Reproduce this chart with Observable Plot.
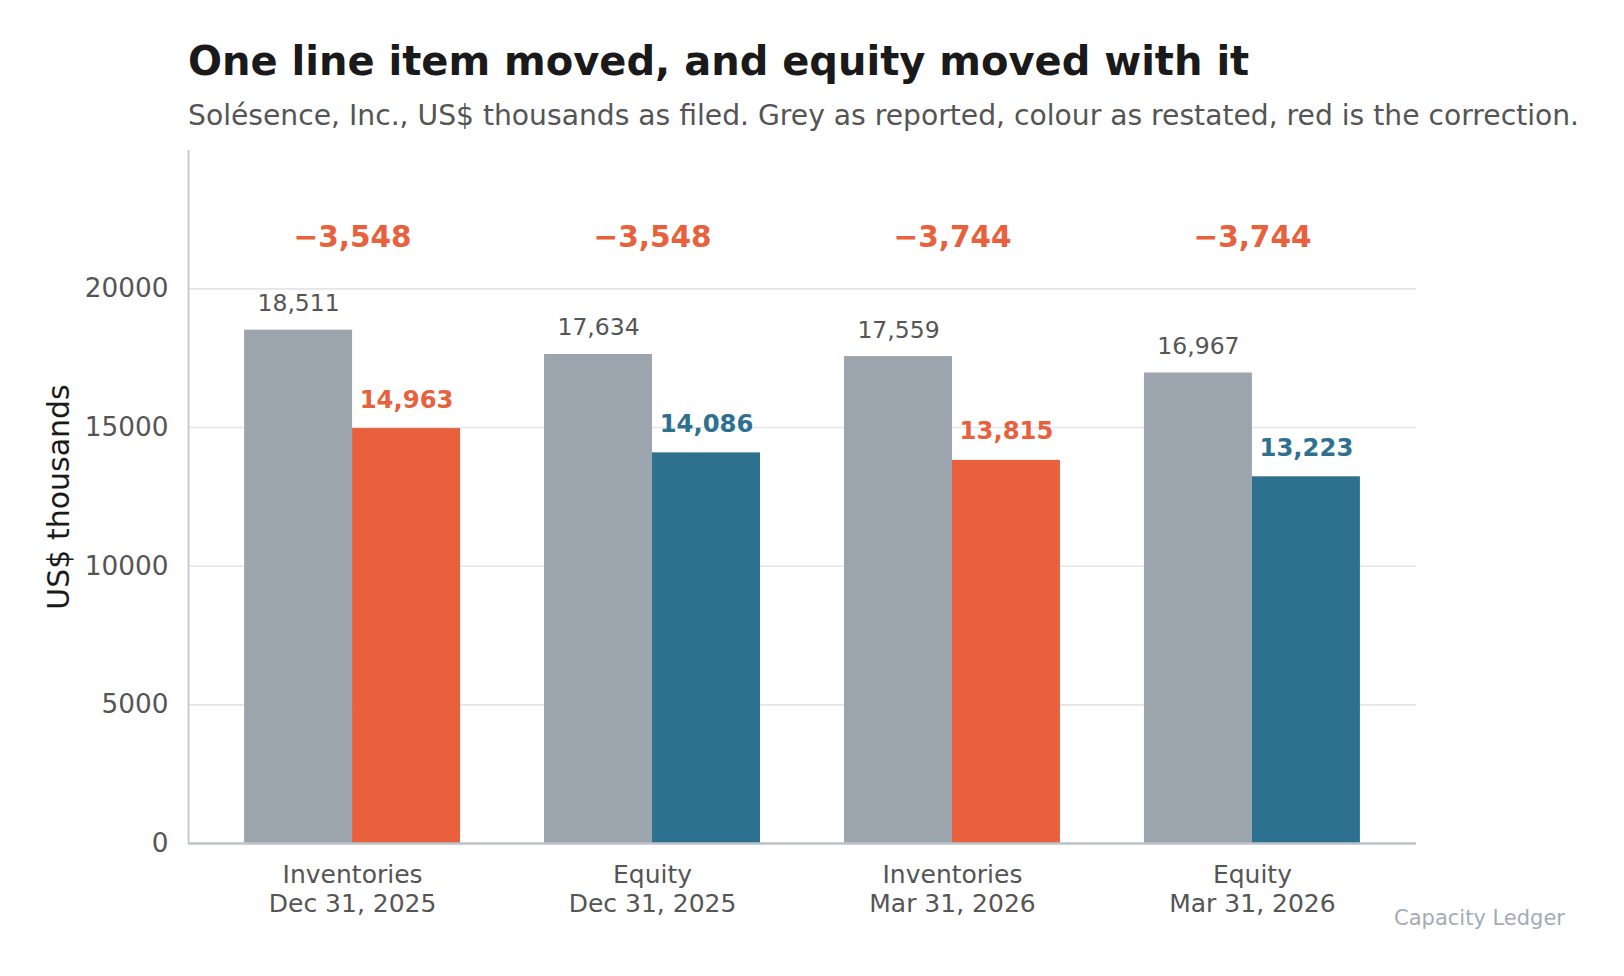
<!DOCTYPE html>
<html>
<head>
<meta charset="utf-8">
<script src="https://cdn.jsdelivr.net/npm/d3@7"></script>
<script src="https://cdn.jsdelivr.net/npm/@observablehq/plot@0.6"></script>
<style>
  html, body { margin: 0; padding: 0; background: #fff; }
  body { font-family: "DejaVu Sans", sans-serif; }
  #wrap { position: relative; width: 1624px; height: 976px; overflow: hidden; background: #fff; }
  #title { position: absolute; left: 188px; top: 41px; font-size: 40px; font-weight: bold; line-height: 1; color: #1a1a1a; white-space: nowrap; }
  #subtitle { position: absolute; left: 188px; top: 102px; font-size: 28.2px; line-height: 1; color: #555; white-space: nowrap; }
  #chart { position: absolute; left: 0; top: 130px; }
  #caption { position: absolute; right: 59px; top: 908px; font-size: 21px; line-height: 1; color: #a3acb5; white-space: nowrap; }
</style>
</head>
<body>
<div id="wrap">
  <div id="title">One line item moved, and equity moved with it</div>
  <div id="subtitle">Solésence, Inc., US$ thousands as filed. Grey as reported, colour as restated, red is the correction.</div>
  <div id="chart"></div>
  <div id="caption">Capacity Ledger</div>
</div>
<script>
// ---- data ----
const lineItems = ["Inventories", "Equity", "Inventories", "Equity"];
const periods = ["Dec 31, 2025", "Dec 31, 2025", "Mar 31, 2026", "Mar 31, 2026"];
const reported = [18511, 17634, 17559, 16967];
const restated = [14963, 14086, 13815, 13223];
const corrections = [-3548, -3548, -3744, -3744];
const yTicks = [0, 5000, 10000, 15000, 20000];
const yLabel = "US$ thousands";

// ---- styles ----
const itemColors = { Inventories: "#e8613c", Equity: "#2e7090" };
const greyBar = "#9ca5ae";
const barHalf = 0.36;            // width of each bar, in category units
const xDomain = [-0.547, 3.547];
const yMax = d3.max(reported) * 1.35;
const deltaY = 21850;            // height at which corrections are written

const rows = lineItems.map((item, i) => ({
  i, item, period: periods[i],
  reported: reported[i], restated: restated[i], correction: corrections[i]
}));
const fmt = d3.format(",");

const chart = Plot.plot({
  width: 1624,
  height: 846,
  marginTop: 20,
  marginBottom: 133,
  marginLeft: 188,
  marginRight: 208,
  style: { fontFamily: "'DejaVu Sans', sans-serif", background: "transparent", overflow: "visible" },
  x: { type: "linear", domain: xDomain, axis: null },
  y: { domain: [0, yMax], axis: null },
  color: { domain: Object.keys(itemColors), range: Object.values(itemColors) },
  marks: [
    Plot.gridY(yTicks.slice(1), { stroke: "#e3e5e8", strokeOpacity: 1, strokeWidth: 1.6 }),
    Plot.rectY(rows, { x1: d => d.i - barHalf, x2: d => d.i, y: "reported", fill: greyBar }),
    Plot.rectY(rows, { x1: d => d.i, x2: d => d.i + barHalf, y: "restated", fill: "item" }),
    Plot.ruleX([xDomain[0]], { stroke: "#c0c7ce", strokeWidth: 1.8 }),
    Plot.ruleY([0], { stroke: "#bac2ca", strokeWidth: 2.4 }),
    Plot.axisY({ ticks: yTicks, tickFormat: d3.format("d"), tickSize: 0, tickPadding: 20, fontSize: 26.3, fill: "#555", label: null }),
    Plot.axisX({ ticks: [0, 1, 2, 3], tickFormat: i => `${lineItems[i]}\n${periods[i]}`, tickSize: 0, tickPadding: 19, fontSize: 25, lineHeight: 1.16, fill: "#555", label: null }),
    Plot.text(rows, { x: d => d.i - barHalf / 2, y: "reported", text: d => fmt(d.reported), lineAnchor: "bottom", dy: -19, fill: "#555", fontSize: 23.5 }),
    Plot.text(rows, { x: d => d.i + barHalf / 2, y: "restated", text: d => fmt(d.restated), lineAnchor: "bottom", dy: -21, fill: "item", fontSize: 24.3, fontWeight: "bold" }),
    Plot.text(rows, { x: "i", y: () => deltaY, text: d => fmt(d.correction), lineAnchor: "middle", fill: itemColors.Inventories, fontSize: 29.5, fontWeight: "bold" }),
    Plot.text([yLabel], { frameAnchor: "left", rotate: -90, dx: -120, textAnchor: "middle", lineAnchor: "bottom", fontSize: 30, fill: "#1a1a1a" })
  ]
});
document.getElementById("chart").appendChild(chart);
</script>
</body>
</html>
